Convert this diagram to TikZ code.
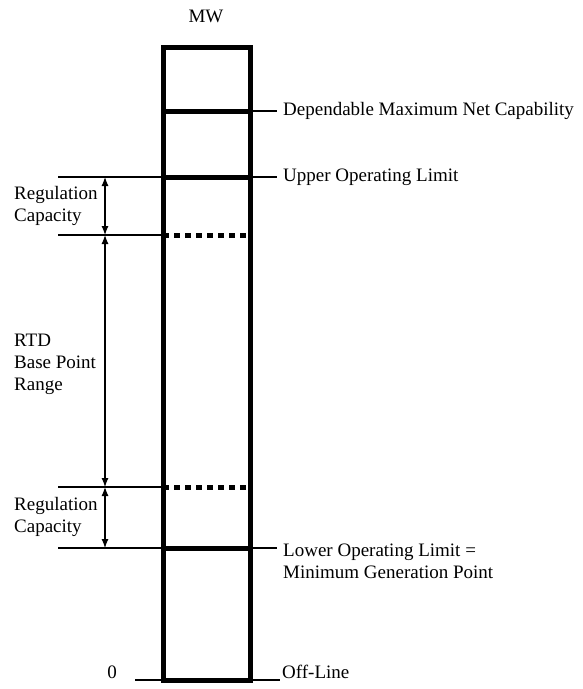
\documentclass[tikz,border=0pt]{standalone}
\usepackage{fontspec}
\setmainfont{Liberation Serif}
\usetikzlibrary{arrows.meta}
\begin{document}
\begin{tikzpicture}[x=1pt,y=-1pt,
  thinline/.style={line width=1.2pt},
  bar/.style={line width=5pt},
  dashbar/.style={line width=5pt, dash pattern=on 6pt off 5pt},
  lbl/.style={font=\fontsize{19}{22}\selectfont, inner sep=0pt, align=left},
  dimarrow/.style={line width=1.2pt, {Latex[length=9pt,width=7pt]}-{Latex[length=9pt,width=7pt]}}]
\useasboundingbox (0,0) rectangle (582,689);
% column
\node[draw, line width=5pt, minimum width=87pt, minimum height=633pt, inner sep=0pt] (box) at (206.5,363.5) {};
\node[lbl] (mw) at (206,16) {MW};
% levels: left ends, box edges, right ends
\coordinate (dL) at (163,111); \coordinate (dR) at (250,111); \coordinate (dE) at (277,111);
\coordinate (uA) at (58,177); \coordinate (uL) at (163,177); \coordinate (uR) at (250,177); \coordinate (uE) at (277,177);
\coordinate (r1A) at (58,235); \coordinate (r1L) at (163,235); \coordinate (r1R) at (250,235);
\coordinate (r2A) at (58,487); \coordinate (r2L) at (163,487); \coordinate (r2R) at (250,487);
\coordinate (lA) at (58,548); \coordinate (lL) at (163,548); \coordinate (lR) at (250,548); \coordinate (lE) at (277,548);
\coordinate (zA) at (135,680); \coordinate (zL) at (163,680); \coordinate (zR) at (250,680); \coordinate (zE) at (280,680);
% Dependable Maximum Net Capability
\draw[bar] (dL) -- (dR);
\draw[thinline] (dR) -- (dE);
\node[lbl, anchor=west] (dtxt) at (283,111) {Dependable Maximum Net Capability};
% Upper operating limit
\draw[thinline] (uA) -- (uL);
\draw[bar] (uL) -- (uR);
\draw[thinline] (uR) -- (uE);
\node[lbl, anchor=west] (utxt) at (283,177) {Upper Operating Limit};
% dashed levels
\draw[thinline] (r1A) -- (r1L);
\draw[dashbar] (r1L) -- (r1R);
\draw[thinline] (r2A) -- (r2L);
\draw[dashbar] (r2L) -- (r2R);
% Lower operating limit
\draw[thinline] (lA) -- (lL);
\draw[bar] (lL) -- (lR);
\draw[thinline] (lR) -- (lE);
\node[lbl, anchor=west] (ltxt) at (283,561) {Lower Operating Limit =\\Minimum Generation Point};
% zero
\draw[thinline] (zA) -- (zL);
\draw[thinline] (zR) -- (zE);
\node[lbl] (zero) at (112,672) {0};
\node[lbl, anchor=west] (off) at (282,672) {Off-Line};
% dimension arrows
\coordinate (a1) at (105,177); \coordinate (a2) at (105,235);
\coordinate (a3) at (105,487); \coordinate (a4) at (105,548);
\draw[dimarrow] (a1) -- (a2);
\draw[dimarrow] (a2) -- (a3);
\draw[dimarrow] (a3) -- (a4);
\node[lbl, anchor=west] (reg1) at (14,206) {Regulation\\Capacity};
\node[lbl, anchor=west] (rtd) at (14,364) {RTD\\Base Point\\Range};
\node[lbl, anchor=west] (reg2) at (14,517) {Regulation\\Capacity};
\end{tikzpicture}
\end{document}
